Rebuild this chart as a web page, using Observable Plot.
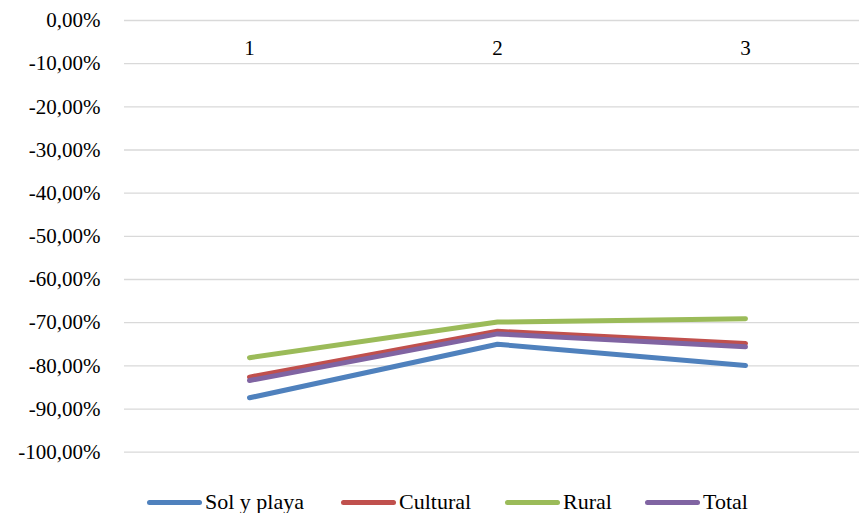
<!DOCTYPE html>
<html>
<head>
<meta charset="utf-8">
<script src="https://cdn.jsdelivr.net/npm/d3@7"></script>
<script src="https://cdn.jsdelivr.net/npm/@observablehq/plot@0.6"></script>
<style>
  html, body { margin: 0; padding: 0; background: #fff; }
  body { width: 859px; height: 513px; overflow: hidden; font-family: "Liberation Serif", Tinos, "DejaVu Serif", serif; }
  #legend { display: flex; align-items: center; height: 38px; margin-top: 8px; padding-left: 147px; font-size: 22px; color: #000; }
  .item { display: flex; align-items: center; flex: none; }
  .sw { width: 55px; height: 5px; border-radius: 3px; margin-right: 3px; flex: none; }
  svg text { font-family: "Liberation Serif", Tinos, "DejaVu Serif", serif; }
</style>
</head>
<body>
<div id="chart"></div>
<div id="legend"></div>
<script>
const periods = [1, 2, 3];
const seriesNames = ["Sol y playa", "Cultural", "Rural", "Total"];
const colors = ["#4F81BD", "#C0504D", "#9BBB59", "#8064A2"];
const solYPlaya = [-87.4, -75.0, -79.9];
const cultural = [-82.6, -72.0, -74.8];
const rural = [-78.1, -69.85, -69.1];
const total = [-83.4, -72.6, -75.6];
const yTicks = [0, -10, -20, -30, -40, -50, -60, -70, -80, -90, -100];

const seriesValues = [solYPlaya, cultural, rural, total];
const data = seriesNames.flatMap((name, i) =>
  periods.map((p, j) => ({ series: name, period: p, value: seriesValues[i][j] })));

const fmt = d => d.toFixed(2).replace(".", ",") + "%";

const chart = Plot.plot({
  width: 859,
  height: 475,
  marginTop: 20,
  marginBottom: 23.3,
  marginLeft: 124,
  marginRight: 0,
  style: { fontFamily: "Liberation Serif, Tinos, DejaVu Serif, serif", fontSize: "21px", color: "#000", background: "#fff" },
  x: { type: "point", domain: periods, range: [249, 745], padding: 0, axis: null },
  y: { domain: [-100, 0], ticks: yTicks, tickFormat: fmt },
  color: { domain: seriesNames, range: colors },
  marks: [
    Plot.ruleY(yTicks, { stroke: "#d9d9d9", strokeWidth: 1.3 }),
    Plot.axisY(yTicks, { tickSize: 0, tickPadding: 24, tickFormat: fmt, label: null, fontSize: 21, fill: "#000" }),
    Plot.text(periods, { x: d => d, y: 0, dy: 28, text: d => String(d), fontSize: 21, fill: "#000" }),
    Plot.line(data, { x: "period", y: "value", z: "series", stroke: "series", strokeWidth: 5, strokeLinecap: "round", strokeLinejoin: "round" })
  ]
});
document.getElementById("chart").appendChild(chart);

const itemWidths = [194, 164, 140, 120];
const legend = document.getElementById("legend");
seriesNames.forEach((name, i) => {
  const item = document.createElement("div");
  item.className = "item";
  item.style.width = itemWidths[i] + "px";
  const sw = document.createElement("div");
  sw.className = "sw";
  sw.style.background = colors[i];
  const t = document.createElement("span");
  t.textContent = name;
  item.appendChild(sw);
  item.appendChild(t);
  legend.appendChild(item);
});
</script>
</body>
</html>
